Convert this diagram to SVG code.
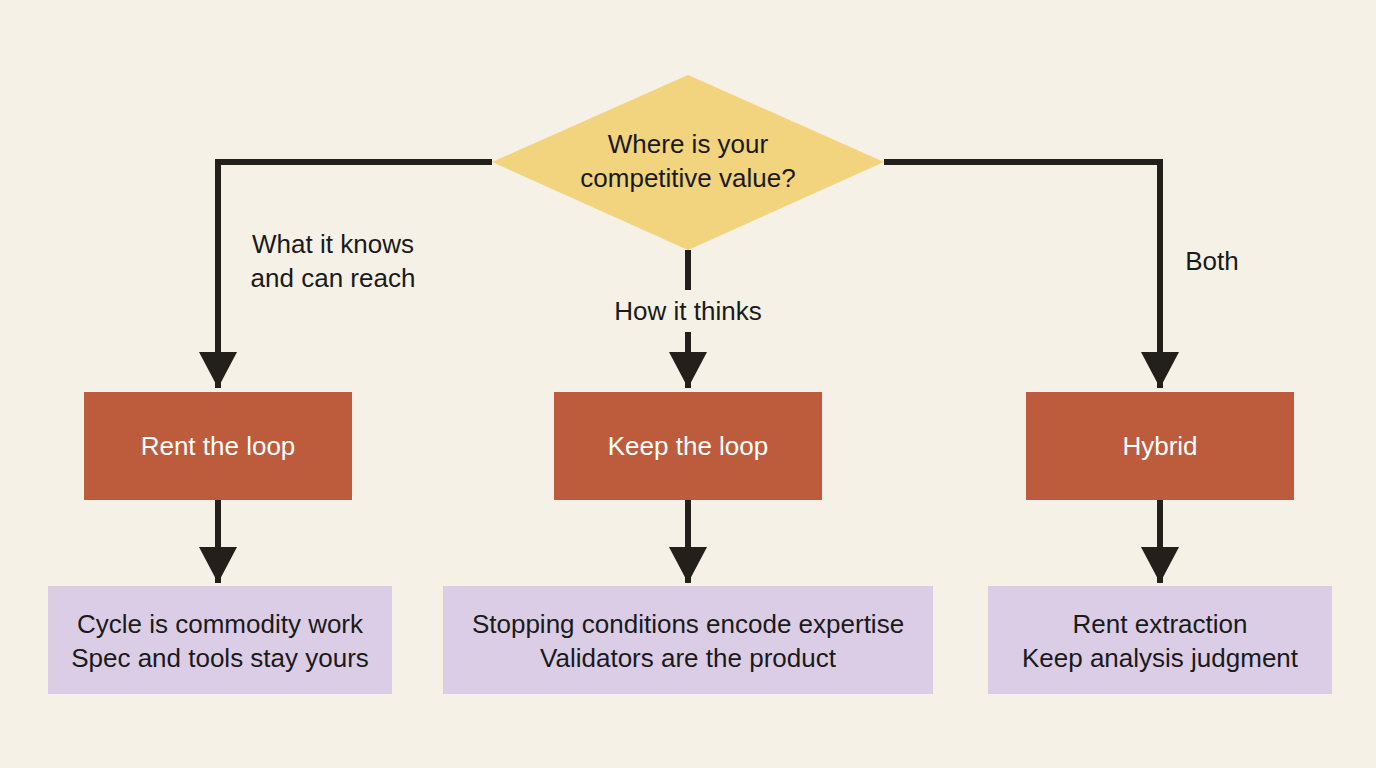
<svg xmlns="http://www.w3.org/2000/svg" width="1376" height="768" viewBox="0 0 1376 768">
<style>
text{font-family:"Liberation Sans",Arial,sans-serif;font-size:26px;fill:#1a1a1a;text-anchor:middle}
.line{fill:none;stroke:#231f1a;stroke-width:6}
.act{fill:#BC5C3D}
.act text{fill:#fff}
.res{fill:#DCCDE6}
</style>
<defs><marker id="ah" markerUnits="userSpaceOnUse" markerWidth="38" markerHeight="38" refX="36" refY="19" orient="auto"><path d="M0,0 L36,19 L0,38 Z" fill="#231f1a"/></marker></defs>
<rect width="1376" height="768" fill="#F5F1E6"/>
<g id="connectors">
<path class="line" d="M492,162 H218 V388" marker-end="url(#ah)"/>
<path class="line" d="M884,162 H1160 V388" marker-end="url(#ah)"/>
<path class="line" d="M688,250 V290"/>
<path class="line" d="M688,332 V388" marker-end="url(#ah)"/>
<path class="line" d="M218,500 V583" marker-end="url(#ah)"/>
<path class="line" d="M688,500 V583" marker-end="url(#ah)"/>
<path class="line" d="M1160,500 V583" marker-end="url(#ah)"/>
<text x="333" y="253" text-anchor="middle">What it knows</text>
<text x="333" y="287">and can reach</text>
<text x="688" y="320">How it thinks</text>
<text x="1212" y="270">Both</text>
</g>
<g id="decision"><polygon points="688,75 884,162 688,250 492,162" fill="#F2D37E"/>
<text x="688" y="153">Where is your</text><text x="688" y="187">competitive value?</text></g>
<g id="rent"><rect x="84" y="392" width="268" height="108" fill="#BC5C3D"/><text x="218" y="455" style="fill:#fff">Rent the loop</text></g>
<g id="keep"><rect x="554" y="392" width="268" height="108" fill="#BC5C3D"/><text x="688" y="455" style="fill:#fff">Keep the loop</text></g>
<g id="hybrid"><rect x="1026" y="392" width="268" height="108" fill="#BC5C3D"/><text x="1160" y="455" style="fill:#fff">Hybrid</text></g>
<g id="rentres"><rect x="48" y="586" width="344" height="108" class="res"/><text x="220" y="633">Cycle is commodity work</text><text x="220" y="667">Spec and tools stay yours</text></g>
<g id="keepres"><rect x="443" y="586" width="490" height="108" class="res"/><text x="688" y="633">Stopping conditions encode expertise</text><text x="688" y="667">Validators are the product</text></g>
<g id="hybridres"><rect x="988" y="586" width="344" height="108" class="res"/><text x="1160" y="633">Rent extraction</text><text x="1160" y="667">Keep analysis judgment</text></g>
</svg>
